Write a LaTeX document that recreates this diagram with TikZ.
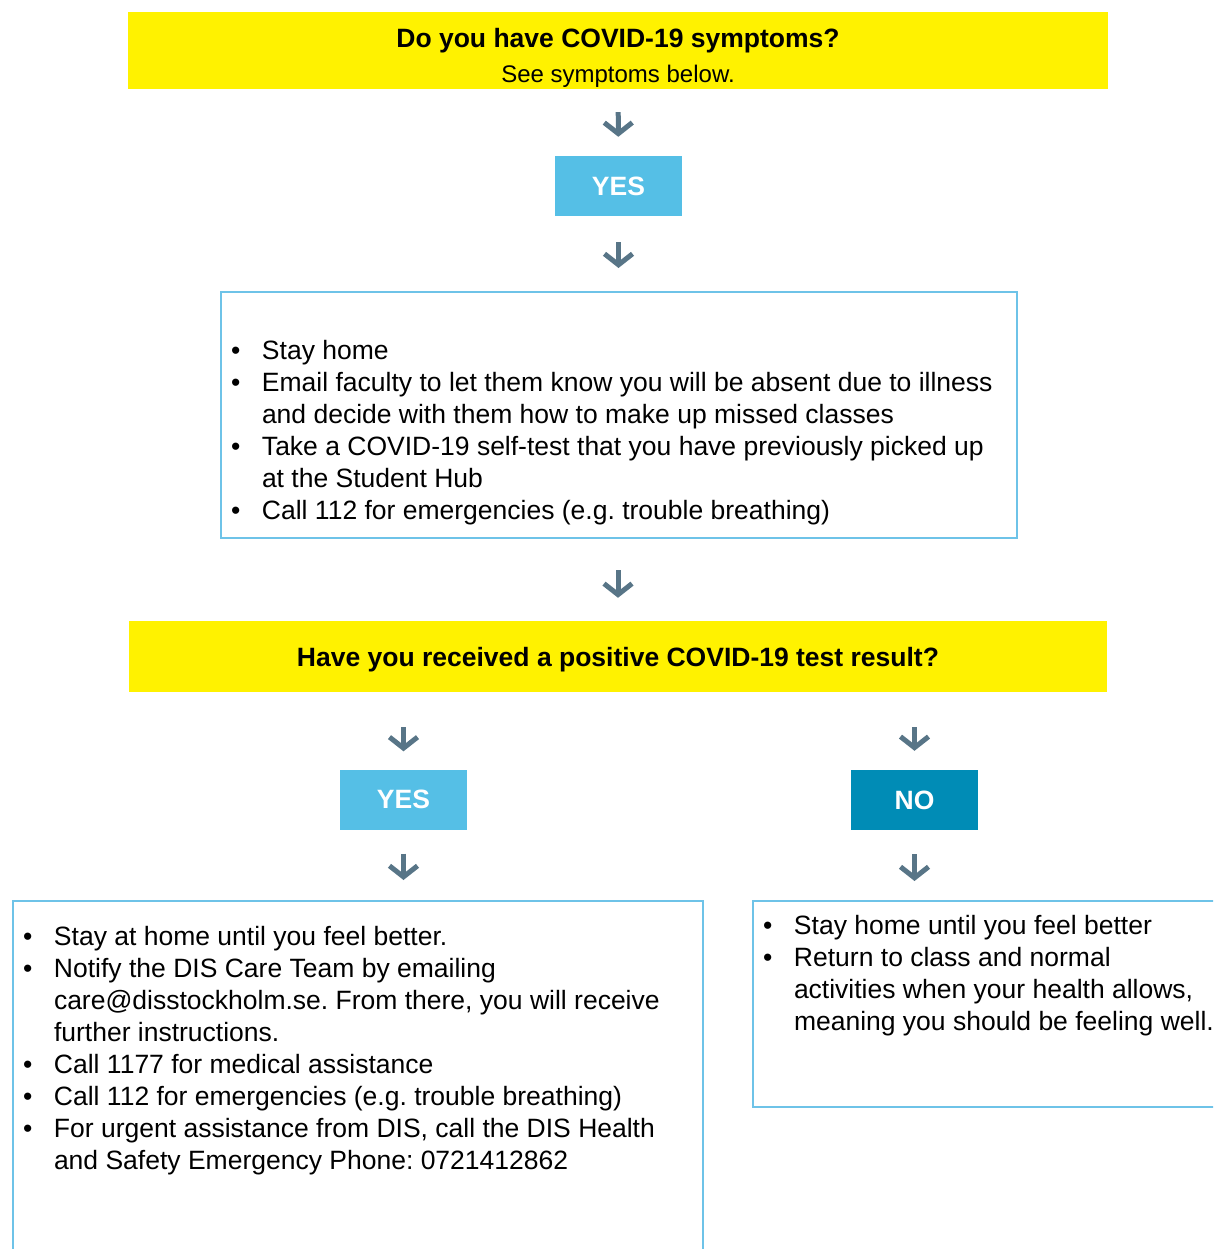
\documentclass[tikz,border=0pt]{standalone}
\usepackage{fontspec}
\setmainfont{Liberation Sans}
\usetikzlibrary{arrows.meta}

\definecolor{askyellow}{HTML}{FFF200}
\definecolor{yesblue}{HTML}{55BFE6}
\definecolor{noblue}{HTML}{008CB6}
\definecolor{frameblue}{HTML}{6EC3E8}
\definecolor{arrowslate}{HTML}{587587}

% box of fixed size, text from the top
\newcommand{\slab}[4]{\parbox[c][#1][t]{#2}{\parindent=0pt\parskip=0pt\frenchspacing\vspace*{#3}#4}}
\newcommand{\listtext}{\fontsize{26.5}{32}\selectfont\leftskip=10pt\rightskip=0pt plus 1fil}
\newcommand{\itm}[1]{\par\hangindent=31pt\hangafter=1\noindent\strut\makebox[31pt][l]{\textbullet}#1\par}

\begin{document}
\begin{tikzpicture}[x=1pt,y=-1pt,
    ask/.style={fill=askyellow,inner sep=0pt},
    reply/.style={minimum width=127pt,minimum height=60pt,inner sep=0pt,text=white,
      font=\fontsize{26.5}{32}\selectfont\bfseries,text depth=0pt},
    panel/.style={draw=frameblue,line width=2pt,inner sep=0pt,anchor=north west},
    flow/.style={draw=arrowslate,line width=5pt,-{Straight Barb[length=11pt,width=28pt]}}]
  \useasboundingbox (0,0) rectangle (1213,1249);
  \clip (0,0) rectangle (1213,1249);

    % Flow Chart
  \node[ask] (Q1) at (618,50.5) {\slab{77pt}{980pt}{13.6pt}{\centering
    \fontsize{26.5}{32}\selectfont\bfseries\strut Do you have COVID-19 symptoms?\par
    \fontsize{24}{35}\selectfont\mdseries See symptoms below.\par}};
  \node[reply,fill=yesblue] (Y1) at (618.5,186) {YES};
  \node[panel] (A1) at (220,291) {\slab{246pt}{796pt}{44.6pt}{\listtext
    \itm{Stay home}
    \itm{Email faculty to let them know you will be absent due to illness\\and decide with them how to make up missed classes}
    \itm{Take a COVID-19 self-test that you have previously picked up\\at the Student Hub}
    \itm{Call 112 for emergencies (e.g. trouble breathing)}}};
  \node[ask] (Q2) at (618,656.5) {\slab{71pt}{978pt}{22.6pt}{\centering
    \fontsize{26.5}{32}\selectfont\bfseries\strut Have you received a positive COVID-19 test result?\par}};
  \node[reply,fill=yesblue] (Y2) at (403.5,799.5) {YES};
  \node[reply,fill=noblue] (N2) at (914.5,800) {NO};
  \node[panel] (B3) at (12,900) {\slab{400pt}{690pt}{21.6pt}{\listtext
    \itm{Stay at home until you feel better.}
    \itm{Notify the DIS Care Team by emailing\\care@disstockholm.se. From there, you will receive\\further instructions.}
    \itm{Call 1177 for medical assistance}
    \itm{Call 112 for emergencies (e.g. trouble breathing)}
    \itm{For urgent assistance from DIS, call the DIS Health\\and Safety Emergency Phone: 0721412862}}};
  \node[panel] (C3) at (752,900) {\slab{206pt}{520pt}{10.6pt}{\listtext
    \itm{Stay home until you feel better}
    \itm{Return to class and normal\\activities when your health allows,\\meaning you should be feeling well.}}};

  \draw [flow,shorten <=23pt,shorten >=19pt] (Q1)            to (Y1);
  \draw [flow,shorten <=26pt,shorten >=23pt] (Y1)            to (A1.north -| Y1);
  \draw [flow,shorten <=31pt,shorten >=23pt] (A1.south -| Q2) to (Q2);
  \draw [flow,shorten <=35pt,shorten >=18pt] (Q2.south -| Y2) to (Y2);
  \draw [flow,shorten <=35pt,shorten >=19pt] (Q2.south -| N2) to (N2);
  \draw [flow,shorten <=24pt,shorten >=20pt] (Y2)            to (B3.north -| Y2);
  \draw [flow,shorten <=24pt,shorten >=19pt] (N2)            to (C3.north -| N2);

\end{tikzpicture}
\end{document}
